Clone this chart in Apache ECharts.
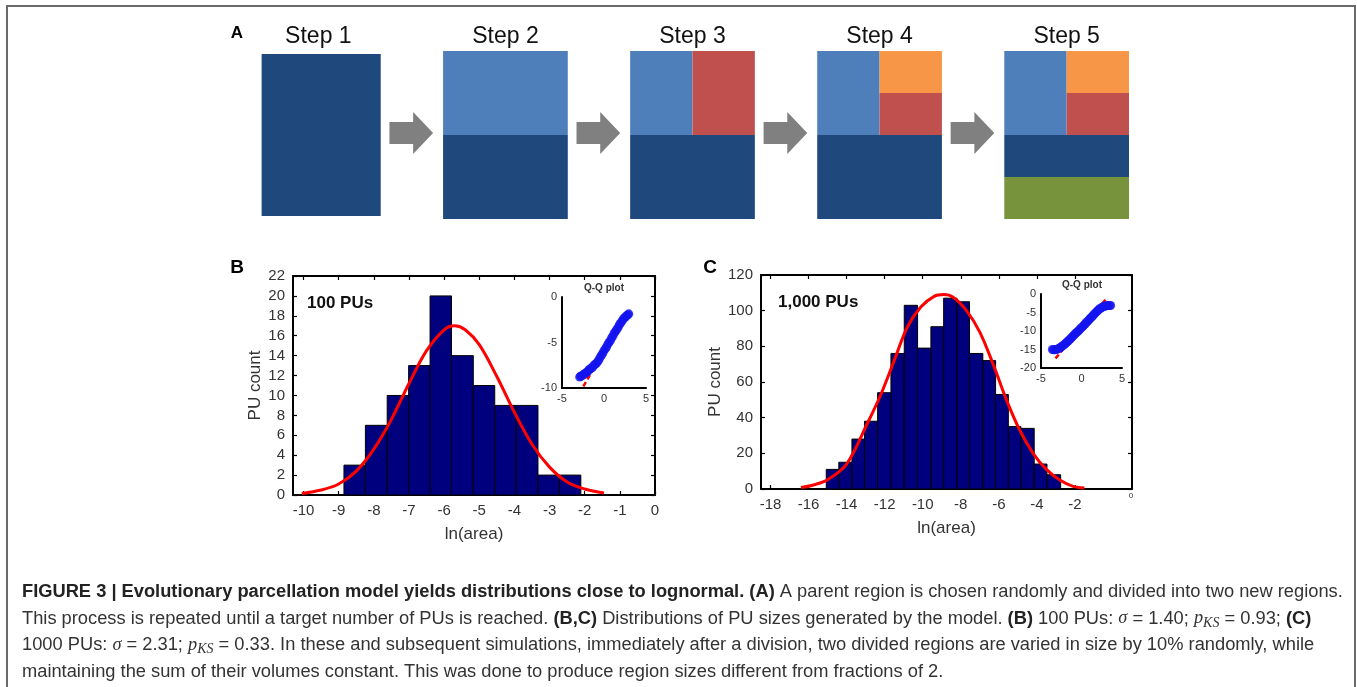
<!DOCTYPE html>
<html><head><meta charset="utf-8">
<script src="https://cdn.jsdelivr.net/npm/echarts@6/dist/echarts.min.js"></script>
<style>html,body{margin:0;padding:0;background:#fff}#c{width:1357px;height:687px}</style>
</head><body><div id="c"></div>
<script>
// ---------------- Panel A (schematic) ----------------
const stepLabels = ['Step 1', 'Step 2', 'Step 3', 'Step 4', 'Step 5'];
const stepOrigins = [0, 1.5, 3, 4.5, 6];
// [step, x0, x1, y0, y1, colour] in block-relative units
const regionsA = [
  [0, 0.045, 1.0, 0.018, 0.982, 'dark'],
  [1, 0, 1, 0, 0.5, 'dark'], [1, 0, 1, 0.5, 1, 'light'],
  [2, 0, 1, 0, 0.5, 'dark'], [2, 0, 0.5, 0.5, 1, 'light'], [2, 0.5, 1, 0.5, 1, 'red'],
  [3, 0, 1, 0, 0.5, 'dark'], [3, 0, 0.5, 0.5, 1, 'light'], [3, 0.5, 1, 0.5, 0.75, 'red'], [3, 0.5, 1, 0.75, 1, 'orange'],
  [4, 0, 1, 0, 0.25, 'green'], [4, 0, 1, 0.25, 0.5, 'dark'], [4, 0, 0.5, 0.5, 1, 'light'], [4, 0.5, 1, 0.5, 0.75, 'red'], [4, 0.5, 1, 0.75, 1, 'orange']
];
const regionColors = { dark: '#1F497D', light: '#4F7FBA', red: '#C0504D', orange: '#F79646', green: '#77933C' };
const arrowAfterStep = [0, 1, 2, 3];
const arrowShape = [[1.07, 0.446], [1.26, 0.446], [1.26, 0.387], [1.42, 0.512], [1.26, 0.637], [1.26, 0.577], [1.07, 0.577]];

// ---------------- Panel B (100 PUs) ----------------
const edgesB = [-8.85, -8.24, -7.62, -7.01, -6.40, -5.79, -5.17, -4.56, -3.95, -3.33, -2.72, -2.11];
const countsB = [3, 7, 10, 13, 20, 14, 11, 9, 9, 2, 2];
const fitBX = [-10.05, -9.5, -9.0, -8.5, -8.0, -7.5, -7.0, -6.5, -6.0, -5.7, -5.4, -5.0, -4.5, -4.0, -3.5, -3.0, -2.5, -2.0, -1.45];
const fitBY = [0.15, 0.5, 1.1, 2.4, 4.6, 7.6, 11.2, 14.5, 16.6, 17.0, 16.6, 15.1, 11.9, 8.3, 5.1, 2.8, 1.3, 0.6, 0.2];
const xTicksB = [-10, -9, -8, -7, -6, -5, -4, -3, -2, -1, 0];
const qqBX = [-2.9, -2.8, -2.7, -2.55, -2.4, -2.25, -2.1, -1.95, -1.8, -1.65, -1.5, -1.35, -1.2, -1.05, -0.9, -0.75, -0.6, -0.45, -0.3, -0.15, 0, 0.15, 0.3, 0.45, 0.6, 0.75, 0.9, 1.05, 1.2, 1.35, 1.5, 1.65, 1.8, 1.95, 2.1, 2.25, 2.4, 2.55, 2.7, 2.85, 2.95];
const qqBY = [-8.8, -8.7, -8.7, -8.6, -8.5, -8.4, -8.3, -8.2, -8.0, -7.9, -7.8, -7.7, -7.5, -7.4, -7.3, -7.1, -6.9, -6.6, -6.4, -6.2, -5.9, -5.7, -5.5, -5.2, -5.0, -4.8, -4.5, -4.3, -4.0, -3.8, -3.6, -3.4, -3.1, -2.9, -2.7, -2.5, -2.3, -2.2, -2.05, -1.95, -1.85];
const qqLineBX = [-2.46, 2.78];
const qqLineBY = [-9.82, -1.56];

// ---------------- Panel C (1,000 PUs) ----------------
const edgesC = [-15.07, -14.41, -13.72, -13.06, -12.37, -11.67, -10.97, -10.27, -9.57, -8.90, -8.20, -7.54, -6.84, -6.17, -5.50, -4.84, -4.14, -3.47, -2.75];
const countsC = [11, 15, 28, 38, 54, 76, 103, 79, 91, 107, 105, 76, 72, 53, 35, 34, 14, 8];
const fitCX = [-16.4, -15.7, -15.0, -14.0, -12.9, -12.2, -11.5, -10.8, -10.1, -9.4, -8.9, -8.4, -7.7, -7.0, -6.3, -5.6, -4.9, -4.2, -3.5, -2.8, -2.1, -1.5];
const fitCY = [0.8, 2.4, 5.2, 14, 37, 53, 72, 91, 102, 108, 109, 107.5, 100, 88, 70, 50, 33, 20, 11, 5, 1.5, 0.6];
const xTicksC = [-18, -16, -14, -12, -10, -8, -6, -4, -2];
const qqCX = [-3.6, -3.45, -3.3, -3.15, -3.0, -2.85, -2.7, -2.55, -2.4, -2.25, -2.1, -1.95, -1.8, -1.65, -1.5, -1.35, -1.2, -1.05, -0.9, -0.75, -0.6, -0.45, -0.3, -0.15, 0, 0.15, 0.3, 0.45, 0.6, 0.75, 0.9, 1.05, 1.2, 1.35, 1.5, 1.65, 1.8, 1.95, 2.1, 2.25, 2.4, 2.55, 2.7, 2.85, 3.0, 3.15, 3.3, 3.45, 3.6];
const qqCY = [-15.0, -15.1, -15.1, -15.0, -14.9, -14.8, -14.6, -14.4, -14.1, -13.9, -13.6, -13.3, -13.0, -12.7, -12.4, -12.1, -11.7, -11.4, -11.0, -10.7, -10.4, -10.1, -9.8, -9.4, -9.1, -8.8, -8.4, -8.1, -7.7, -7.4, -7.0, -6.7, -6.3, -6.0, -5.6, -5.3, -4.9, -4.6, -4.3, -4.0, -3.8, -3.6, -3.4, -3.3, -3.2, -3.15, -3.1, -3.1, -3.1];
const qqLineCX = [-3.21, 3.21];
const qqLineCY = [-17.4, -0.93];

// ---------------- Caption ----------------
const captionLines = [
  '{b|FIGURE 3 | Evolutionary parcellation model yields distributions close to lognormal. (A)} A parent region is chosen randomly and divided into two new regions.',
  'This process is repeated until a target number of PUs is reached. {b|(B,C)} Distributions of PU sizes generated by the model. {b|(B)} 100 PUs: {i|σ} = 1.40; {i|p}{sub|KS} = 0.93; {b|(C)}',
  '1000 PUs: {i|σ} = 2.31; {i|p}{sub|KS} = 0.33. In these and subsequent simulations, immediately after a division, two divided regions are varied in size by 10% randomly, while',
  'maintaining the sum of their volumes constant. This was done to produce region sizes different from fractions of 2.'
];

const FONT = "'Liberation Sans', Arial, Helvetica, sans-serif";
const SERIF = "'Liberation Serif', 'DejaVu Serif', serif";
const zip = (xs, ys) => xs.map((x, i) => [x, ys[i]]);

const chart = echarts.init(document.getElementById('c'), null, { width: 1357, height: 687 });

const lbl = (size, extra) => Object.assign({ fontFamily: FONT, fontSize: size, color: '#333' }, extra || {});
const blackLine = { lineStyle: { color: '#000', width: 2 } };

function mainX(grid, min, max, ticks, top) {
  return {
    gridIndex: grid, type: 'value', min: min, max: max, position: top ? 'top' : 'bottom',
    axisLine: Object.assign({ onZero: false }, blackLine),
    axisTick: { inside: true, length: 4, customValues: ticks, lineStyle: { color: '#000', width: 1.2 } },
    axisLabel: top ? { show: false } : lbl(15, { customValues: ticks, margin: 8 }),
    splitLine: { show: false },
    name: top ? '' : 'ln(area)', nameLocation: 'middle', nameGap: 31,
    nameTextStyle: lbl(17, { color: '#333' })
  };
}
function mainY(grid, max, interval, right, gap) {
  return {
    gridIndex: grid, type: 'value', min: 0, max: max, interval: interval, position: right ? 'right' : 'left',
    axisLine: Object.assign({ onZero: false }, blackLine),
    axisTick: { inside: true, length: 4, lineStyle: { color: '#000', width: 1.2 } },
    axisLabel: right ? { show: false } : lbl(15, { margin: 8 }),
    splitLine: { show: false },
    name: right ? '' : 'PU count', nameLocation: 'middle', nameGap: gap, nameRotate: 90,
    nameTextStyle: lbl(17)
  };
}
function insetX(grid) {
  return {
    gridIndex: grid, type: 'value', min: -5, max: 5, interval: 5,
    axisLine: Object.assign({ onZero: false }, blackLine), axisTick: { show: false },
    axisLabel: lbl(11, { margin: 5 }), splitLine: { show: false }
  };
}
function insetY(grid, min) {
  return {
    gridIndex: grid, type: 'value', min: min, max: 0, interval: 5,
    axisLine: Object.assign({ onZero: false }, blackLine), axisTick: { show: false },
    axisLabel: lbl(11, { margin: 5 }), splitLine: { show: false }
  };
}

function histSeries(xi, yi, edges, counts) {
  return {
    type: 'custom', xAxisIndex: xi, yAxisIndex: yi, z: 3,
    data: counts.map((c, i) => [edges[i], edges[i + 1], c]),
    encode: { x: [0, 1], y: 2 },
    renderItem: function (params, api) {
      const p0 = api.coord([api.value(0), api.value(2)]);
      const p1 = api.coord([api.value(1), 0]);
      return { type: 'rect', shape: { x: p0[0], y: p0[1], width: p1[0] - p0[0], height: p1[1] - p0[1] },
        style: { fill: '#00007F', stroke: '#000', lineWidth: 1 } };
    }
  };
}
function fitSeries(xi, yi, xs, ys) {
  return { type: 'line', xAxisIndex: xi, yAxisIndex: yi, z: 4, data: zip(xs, ys), smooth: 0.35,
    showSymbol: false, lineStyle: { color: '#FF0000', width: 3 }, silent: true };
}
function qqLine(xi, yi, xs, ys) {
  return { type: 'line', xAxisIndex: xi, yAxisIndex: yi, z: 4, data: zip(xs, ys), showSymbol: false,
    lineStyle: { color: '#FF0000', width: 2.5, type: [5, 3] }, silent: true };
}
function qqPoints(xi, yi, xs, ys, size) {
  return { type: 'scatter', xAxisIndex: xi, yAxisIndex: yi, z: 5, data: zip(xs, ys), symbolSize: size,
    itemStyle: { color: '#1414F0' }, silent: true };
}

const option = {
  animation: false,
  backgroundColor: '#fff',
  grid: [
    { left: 256, top: 51, width: 873, height: 168 },
    { left: 293, top: 276, width: 362, height: 219 },
    { left: 761, top: 275, width: 371, height: 214 },
    { left: 562, top: 297, width: 84, height: 91 },
    { left: 1041, top: 294, width: 81, height: 74 }
  ],
  xAxis: [
    { gridIndex: 0, type: 'value', min: 0, max: 7, show: false },
    mainX(1, -10.3, 0, xTicksB, false),
    mainX(1, -10.3, 0, xTicksB, true),
    mainX(2, -18.5, 1.0, xTicksC, false),
    mainX(2, -18.5, 1.0, xTicksC, true),
    insetX(3),
    insetX(4)
  ],
  yAxis: [
    { gridIndex: 0, type: 'value', min: 0, max: 1, show: false },
    mainY(1, 22, 2, false, 29),
    mainY(1, 22, 2, true, 0),
    mainY(2, 120, 20, false, 36),
    mainY(2, 120, 20, true, 0),
    insetY(3, -10),
    insetY(4, -20)
  ],
  series: [
    {
      type: 'custom', xAxisIndex: 0, yAxisIndex: 0,
      data: regionsA.map(r => [stepOrigins[r[0]] + r[1], stepOrigins[r[0]] + r[2], r[3], r[4]]),
      encode: { x: [0, 1], y: [2, 3] },
      renderItem: function (params, api) {
        const p0 = api.coord([api.value(0), api.value(3)]);
        const p1 = api.coord([api.value(1), api.value(2)]);
        return { type: 'rect', shape: { x: p0[0], y: p0[1], width: p1[0] - p0[0], height: p1[1] - p0[1] },
          style: { fill: regionColors[regionsA[params.dataIndex][5]] } };
      }
    },
    {
      type: 'custom', xAxisIndex: 0, yAxisIndex: 0,
      data: arrowAfterStep.map(s => [stepOrigins[s]]),
      renderItem: function (params, api) {
        const o = api.value(0);
        return { type: 'polygon', shape: { points: arrowShape.map(p => api.coord([o + p[0], p[1]])) },
          style: { fill: '#808080' } };
      }
    },
    {
      type: 'custom', xAxisIndex: 0, yAxisIndex: 0,
      data: stepLabels.map((t, i) => [stepOrigins[i] + 0.5, 1]),
      renderItem: function (params, api) {
        const p = api.coord([api.value(0), api.value(1)]);
        return { type: 'text', x: p[0], y: p[1] - 14,
          style: { text: stepLabels[params.dataIndex], align: 'center', verticalAlign: 'middle',
            fontFamily: FONT, fontSize: 23, fill: '#111' } };
      }
    },
    histSeries(1, 1, edgesB, countsB),
    fitSeries(1, 1, fitBX, fitBY),
    histSeries(3, 3, edgesC, countsC),
    fitSeries(3, 3, fitCX, fitCY),
    qqLine(5, 5, qqLineBX, qqLineBY),
    qqPoints(5, 5, qqBX, qqBY, 9),
    qqLine(6, 6, qqLineCX, qqLineCY),
    qqPoints(6, 6, qqCX, qqCY, 9)
  ],
  graphic: [
    { type: 'rect', silent: true, shape: { x: 7, y: 6, width: 1348, height: 720 },
      style: { fill: 'none', stroke: '#6a6a6a', lineWidth: 2 } },
    { type: 'text', x: 237, y: 33, style: { text: 'A', fontFamily: FONT, fontSize: 17, fontWeight: 'bold', fill: '#000', align: 'center', verticalAlign: 'middle' } },
    { type: 'text', x: 237, y: 268, style: { text: 'B', fontFamily: FONT, fontSize: 19, fontWeight: 'bold', fill: '#000', align: 'center', verticalAlign: 'middle' } },
    { type: 'text', x: 710, y: 268, style: { text: 'C', fontFamily: FONT, fontSize: 19, fontWeight: 'bold', fill: '#000', align: 'center', verticalAlign: 'middle' } },
    { type: 'text', x: 307, y: 303, style: { text: '100 PUs', fontFamily: FONT, fontSize: 17, fontWeight: 'bold', fill: '#111', align: 'left', verticalAlign: 'middle' } },
    { type: 'text', x: 778, y: 302, style: { text: '1,000 PUs', fontFamily: FONT, fontSize: 17, fontWeight: 'bold', fill: '#111', align: 'left', verticalAlign: 'middle' } },
    { type: 'text', x: 604, y: 288, style: { text: 'Q-Q plot', fontFamily: FONT, fontSize: 10, fontWeight: 'bold', fill: '#333', align: 'center', verticalAlign: 'middle' } },
    { type: 'text', x: 1082, y: 285, style: { text: 'Q-Q plot', fontFamily: FONT, fontSize: 10, fontWeight: 'bold', fill: '#333', align: 'center', verticalAlign: 'middle' } },
    { type: 'text', x: 1131, y: 496, style: { text: '0', fontFamily: FONT, fontSize: 8, fill: '#333', align: 'center', verticalAlign: 'middle' } }
  ].concat(captionLines.map((t, i) => ({
    type: 'text', x: 22, y: 592 + i * 26.5,
    style: {
      text: t, fontFamily: FONT, fontSize: 18.3, fill: '#333', align: 'left', verticalAlign: 'middle',
      rich: {
        b: { fontFamily: FONT, fontSize: 18.3, fontWeight: 'bold', fill: '#222' },
        i: { fontFamily: SERIF, fontSize: 18.3, fontStyle: 'italic', fill: '#333' },
        sub: { fontFamily: SERIF, fontSize: 14, fontStyle: 'italic', fill: '#333', padding: [9, 0, 0, 0] }
      }
    }
  })))
};
chart.setOption(option);
</script>
</body></html>
